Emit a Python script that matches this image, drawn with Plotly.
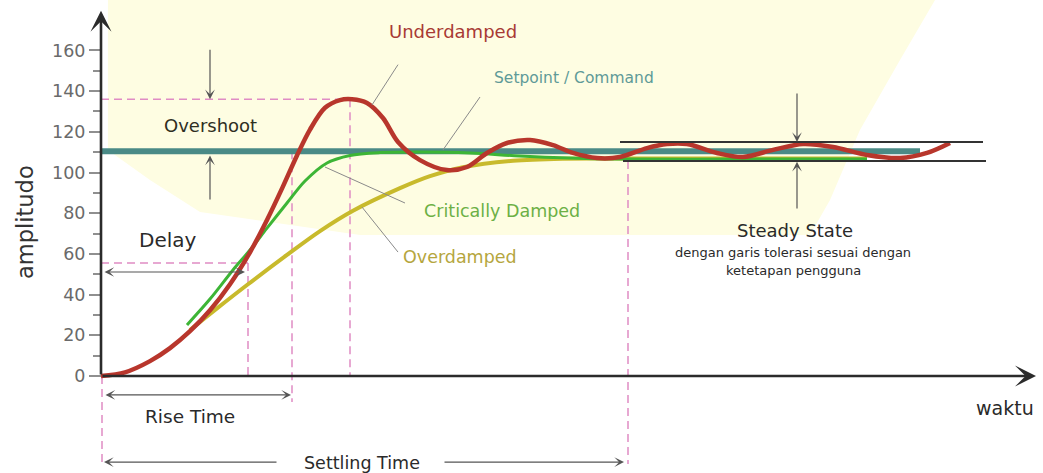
import plotly.graph_objects as go

# ---------------- data (time in arbitrary units, amplitude) ----------------
under_t = [0, 2.4, 4.9, 6.9, 8.9, 10.9, 12.9, 14.9, 16.6, 18.2, 19.6, 20.9, 22.4, 23.9, 25.1,
           26.6, 28.2, 29.7, 31.9, 34.6, 36.6, 38.6, 40.6, 42.9, 45.2, 47.2, 49.6, 51.9,
           54.6, 56.6, 58.6, 61.6, 64.2, 67.2, 70.2, 73.2, 76.6, 79.9, 82.6, 84.9]
under_v = [0, 1.8, 7.3, 13.7, 22.0, 32.3, 45.1, 60.8, 76.7, 93.2, 108.4, 121.1, 131.8, 135.6, 136.0,
           134.2, 126.8, 115.0, 106.1, 101.2, 102.7, 109.6, 114.5, 116.0, 113.5, 109.6, 107.1, 107.6,
           112.0, 114.0, 114.0, 109.6, 107.6, 111.1, 114.0, 112.5, 108.6, 107.1, 109.6, 114.5]

crit_t = [8.6, 10.9, 13.2, 14.9, 16.6, 18.6, 20.4, 22.6, 24.9, 27.9, 31.9, 36.9, 41.9, 46.9, 51.9, 64.9, 76.6]
crit_v = [25.1, 37.8, 52.1, 61.9, 72.7, 85.0, 95.8, 104.7, 108.4, 109.8, 110.1, 109.6, 108.1, 107.1,
          106.6, 106.6, 106.6]

over_t = [8.9, 11.6, 14.6, 18.6, 21.9, 25.2, 29.9, 32.9, 36.2, 41.2, 46.2, 51.9, 64.9, 76.6]
over_v = [22.6, 33.2, 44.7, 59.5, 71.2, 81.2, 92.3, 98.2, 102.6, 105.8, 106.8, 106.9, 106.9, 106.9]

setpoint_t = [0, 81.9]
setpoint_v = [110.5, 110.5]

# key characteristic values
peak_value = 136.0
peak_time = 24.9
delay_level = 55.5
delay_time = 14.7
rise_time = 19.1
settle_time = 52.7
tol_hi = 115.0
tol_lo = 105.7
tol_start, tol_end = 51.9, 88.2

y_tick_vals = [0, 20, 40, 60, 80, 100, 120, 140, 160]
y_minor_vals = [10, 30, 50, 70, 90, 110, 130, 150]

# ---------------- figure ----------------
W, H = 1043, 473
FONT = "DejaVu Sans"

fig = go.Figure()

fig.add_trace(go.Scatter(x=setpoint_t, y=setpoint_v, mode="lines",
                         line=dict(color="#4a8a86", width=6), hoverinfo="skip"))
fig.add_trace(go.Scatter(x=over_t, y=over_v, mode="lines",
                         line=dict(color="#c8ba2c", width=4, shape="spline", smoothing=0.9),
                         hoverinfo="skip"))
fig.add_trace(go.Scatter(x=crit_t, y=crit_v, mode="lines",
                         line=dict(color="#3db536", width=3, shape="spline", smoothing=0.9),
                         hoverinfo="skip"))
fig.add_trace(go.Scatter(x=under_t, y=under_v, mode="lines",
                         line=dict(color="#b8362c", width=4.5, shape="spline", smoothing=0.9),
                         hoverinfo="skip"))


def px2paper(px, py):
    return px / W, 1 - py / H


# pale yellow background blob
poly = [(108, 0), (935, 0), (900, 60), (860, 130), (830, 200), (810, 235), (360, 235),
        (200, 212), (150, 180), (108, 150)]
path = "M " + " L ".join("%.4f,%.4f" % px2paper(a, b) for a, b in poly) + " Z"
shapes = [dict(type="path", path=path, xref="paper", yref="paper",
               fillcolor="#fefde2", line=dict(width=0), layer="below")]

PINK = "#e08cc4"
DASH = "8px,5px"


def dline(x0, y0, x1, y1):
    shapes.append(dict(type="line", xref="x", yref="y", x0=x0, y0=y0, x1=x1, y1=y1,
                       line=dict(color=PINK, width=1.5, dash=DASH), layer="below"))


dline(0, peak_value, peak_time, peak_value)
dline(peak_time, peak_value, peak_time, 0)
dline(rise_time, setpoint_v[0], rise_time, -12.8)
dline(delay_time, delay_level, delay_time, 0)
dline(0, delay_level, delay_time, delay_level)
dline(0.1, 0, 0.1, -43)
dline(settle_time, tol_lo, settle_time, -43.2)

# tolerance band lines
for yv, a, b in [(tol_hi, tol_start, tol_end), (tol_lo, tol_start + 0.3, tol_end + 0.3)]:
    shapes.append(dict(type="line", xref="x", yref="y", x0=a, y0=yv, x1=b, y1=yv,
                       line=dict(color="#333333", width=2)))


def leader(x0, y0, x1, y1):
    shapes.append(dict(type="line", xref="x", yref="y", x0=x0, y0=y0, x1=x1, y1=y1,
                       line=dict(color="#8a8a8a", width=1)))


leader(29.7, 153.0, 27.1, 133.2)
leader(37.9, 137.1, 34.2, 111.1)
leader(22.4, 102.7, 30.4, 85.0)
leader(26.1, 83.0, 29.7, 60.9)

annotations = []


def arrow(x_tail, y_tail, x_head, y_head, width=1.2, size=1.35, color="#555555", both=False):
    a = dict(x=x_head, y=y_head, ax=x_tail, ay=y_tail, xref="x", yref="y",
             axref="x", ayref="y", text="", showarrow=True, arrowhead=3,
             arrowsize=size, arrowwidth=width, arrowcolor=color, standoff=0,
             startstandoff=0)
    if both:
        a.update(arrowside="end+start", startarrowhead=3, startarrowsize=size)
    annotations.append(a)


# main axes
arrow(0, 0, 0, 179.5, width=2.6, size=1.35, color="#2b2b2b")
arrow(0, 0, 93.5, 0, width=2.6, size=1.35, color="#2b2b2b")

# overshoot arrows
arrow(10.9, 161.0, 10.9, peak_value)
arrow(10.9, 86.0, 10.9, 108.4)
# delay
arrow(0.2, 51.1, 14.4, 51.1, both=True)
# rise time
arrow(0.3, -9.3, 19.0, -9.3, both=True)
# settling time
arrow(17.7, -42.3, 0.3, -42.3)
arrow(34.2, -42.3, 52.3, -42.3)
# steady state arrows
arrow(69.6, 139.6, 69.6, tol_hi)
arrow(69.6, 81.6, 69.6, tol_lo - 0.4)


def label(txt, x, y, size, color="#2a2a2a", xref="x", angle=0):
    annotations.append(dict(x=x, y=y, xref=xref, yref="y", text=txt, showarrow=False,
                            font=dict(family=FONT, size=size, color=color),
                            xanchor="center", yanchor="middle", textangle=angle))


label("Underdamped", 35.2, 169.5, 18, "#a83a34")
label("Setpoint / Command", 47.3, 146.4, 15.5, "#5f9a98")
label("Overshoot", 10.9, 123.3, 18, "#2f2f1f")
label("Delay", 6.7, 66.8, 20)
label("Critically Damped", 40.1, 81.1, 17.5, "#6cb045")
label("Overdamped", 35.9, 58.5, 17.5, "#b5a63e")
label("Steady State", 69.4, 71.7, 18)
label("dengan garis tolerasi sesuai dengan", 69.2, 60.9, 13)
label("ketetapan pengguna", 69.2, 51.6, 13)
label("Rise Time", 8.9, -19.7, 18.5)
label("Settling Time", 26.1, -42.8, 17.5)
label("waktu", 90.4, -15.7, 19)
label("amplitudo", 25 / W, 75.7, 22.5, "#333333", xref="paper", angle=-90)

fig.update_layout(
    width=W, height=H,
    margin=dict(l=0, r=0, t=0, b=0),
    paper_bgcolor="white", plot_bgcolor="rgba(0,0,0,0)",
    showlegend=False,
    shapes=shapes, annotations=annotations,
    xaxis=dict(range=[-10.1, 94.2], visible=False, fixedrange=True),
    yaxis=dict(range=[-47.67, 184.77], anchor="free", position=101 / W,
               tickmode="array", tickvals=y_tick_vals, ticks="outside",
               ticklen=12, tickwidth=1.5, tickcolor="#8f8f8f",
               tickfont=dict(family=FONT, size=17.5, color="#6a6a6a"),
               minor=dict(tickmode="array", tickvals=y_minor_vals, ticks="outside",
                          ticklen=8, tickwidth=1.5, tickcolor="#8f8f8f"),
               showgrid=False, zeroline=False, showline=False,
               automargin=False, fixedrange=True),
)

fig.write_html("out.html", config={"displayModeBar": False},
               post_script="document.body.style.margin='0';document.body.style.overflow='hidden';")
